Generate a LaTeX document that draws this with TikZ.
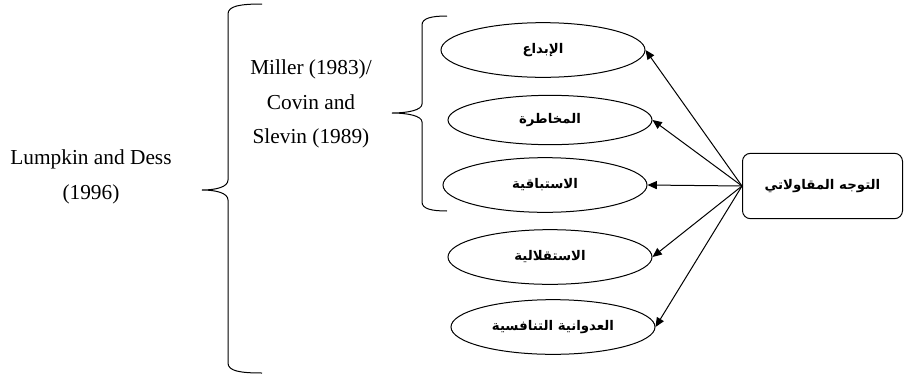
\documentclass[tikz,border=0pt]{standalone}
\usepackage{fontspec}
\setmainfont{Liberation Serif}
\newfontfamily\arabicfont[Script=Arabic]{DejaVu Sans}
\TeXXeTstate=1
\usetikzlibrary{shapes.geometric,arrows.meta}

\tikzset{
  dimension/.style={draw, ellipse, line width=0.75, minimum width=153pt, minimum height=41pt, inner sep=0pt, font=\arabicfont\bfseries\fontsize{10}{12}\selectfont},
  source/.style={inner sep=0.75pt, align=center, font=\fontsize{16}{26}\selectfont},
  link/.style={line width=0.75, -{Triangle[length=7pt,width=6pt]}}
}

\begin{document}
\begin{tikzpicture}[x=0.75pt,y=0.75pt,yscale=-1,xscale=1]
        \path[use as bounding box] (0,0) rectangle (904,379);

        %Shape: Brace (outer)
        \draw [line width=0.75]  (262,4) .. controls (240,4) and (228,6) .. (228,14) -- (228,180) .. controls (228,187) and (216,190) .. (202,190) .. controls (216,190) and (228,193) .. (228,200) -- (228,363) .. controls (228,371) and (240,373) .. (262,373) ;
        %Shape: Brace (inner)
        \draw [line width=0.75]  (447,16) .. controls (432,16) and (422,18) .. (422,25) -- (422,104) .. controls (422,110) and (408,113) .. (392,113) .. controls (408,113) and (422,116) .. (422,122) -- (422,202) .. controls (422,209) and (432,211) .. (447,211) ;

        % Text Node
        \draw (91,177) node [source] (lumpkin) {Lumpkin and Dess\\(1996)};
        % Text Node
        \draw (311,104) node [source] (miller) {Miller (1983)/\\Covin and\\Slevin (1989)};

        %Shape: Ellipse
        \draw (543,50) node [dimension] (ibdaa) {\beginR الإبداع\endR};
        %Shape: Ellipse
        \draw (550,120) node [dimension, minimum height=37pt] (mukhatara) {\beginR المخاطرة\endR};
        %Shape: Ellipse
        \draw (545,185) node [dimension] (istibaq) {\beginR الاستباقية\endR};
        %Shape: Ellipse
        \draw (550,257) node [dimension] (istiqlal) {\beginR الاستقلالية\endR};
        %Shape: Ellipse
        \draw (553,327) node [dimension] (udwan) {\beginR العدوانية التنافسية\endR};

        %Shape: Rounded Rect
        \draw (822.5,186) node [draw, line width=0.75, rounded corners=6pt, minimum width=120pt, minimum height=49pt, inner sep=0pt, font=\arabicfont\bfseries\fontsize{10}{12}\selectfont] (tawajjuh) {\beginR التوجه المقاولاتي\endR};

        %Straight Lines
        \draw [link] (tawajjuh.west) -- (ibdaa.east) ;
        \draw [link] (tawajjuh.west) -- (mukhatara.east) ;
        \draw [link] (tawajjuh.west) -- (istibaq.east) ;
        \draw [link] (tawajjuh.west) -- (istiqlal.east) ;
        \draw [link] (tawajjuh.west) -- (udwan.east) ;

    \end{tikzpicture}
\end{document}
